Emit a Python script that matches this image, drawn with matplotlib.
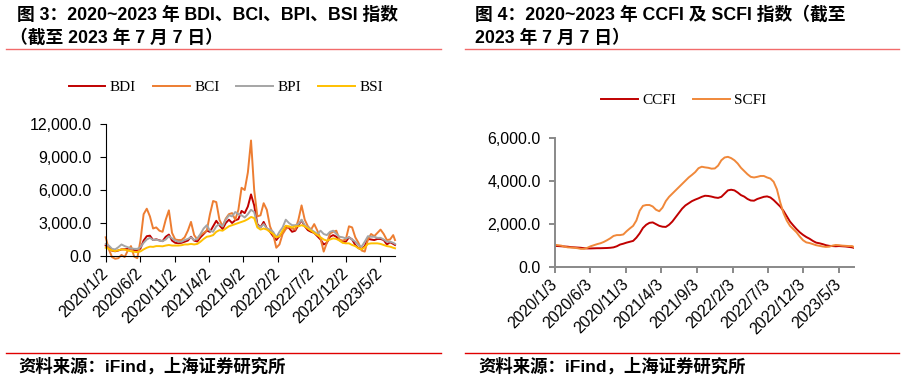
import matplotlib
matplotlib.use('Agg')
import matplotlib.pyplot as plt
import pandas as pd
from matplotlib.lines import Line2D
from matplotlib.ticker import FuncFormatter, FixedLocator

plt.rcParams['font.family'] = ['Liberation Sans', 'Noto Sans CJK SC']

# ---------------- data ----------------
left_dates = list(pd.date_range('2020-01-02', periods=92, freq='14D')) + [pd.Timestamp('2023-07-07')]
right_dates = list(pd.date_range('2020-01-03', periods=92, freq='14D')) + [pd.Timestamp('2023-07-07')]

bdi = [950, 760, 480, 430, 500, 600, 610, 640, 680, 530,
       470, 680, 1400, 1800, 1850, 1450, 1520, 1420, 1350, 1750,
       1950, 1400, 1200, 1160, 1200, 1300, 1400, 1750, 1400, 1320,
       1700, 2000, 2300, 2200, 2700, 3200, 2800, 2450, 3000, 3300,
       3000, 3250, 3350, 4100, 3900, 4500, 5600, 4600, 2900, 2600,
       3100, 2500, 2200, 1800, 1450, 1800, 2100, 2700, 2550, 2200,
       2300, 2800, 3250, 2700, 2350, 2200, 2100, 1800, 1500, 1050,
       1200, 1750, 1900, 1750, 1450, 1250, 1300, 1700, 1500, 1000,
       720, 600, 900, 1550, 1500, 1450, 1550, 1550, 1450, 1050,
       1250, 1100, 1000]

bci = [1700, 600, -100, -250, -200, 100, -100, 500, 900, -50,
       -200, 1400, 3800, 4300, 3600, 2500, 2600, 2300, 2200, 3300,
       4150, 2100, 1500, 1450, 1450, 1700, 2300, 3100, 1900, 1500,
       1900, 2100, 2300, 3800, 5000, 4900, 3300, 2700, 3400, 3800,
       3900, 3300, 4200, 6200, 6000, 7600, 10500, 6000, 3600, 3700,
       4800, 4200, 2700, 2000, 750, 1050, 2000, 2450, 2650, 2500,
       2400, 3300, 4600, 3300, 2700, 2400, 2900, 2300, 1600, 400,
       1200, 2050, 2200, 2300, 1500, 1400, 1500, 2700, 2600, 1700,
       1200, 500, 400, 1500, 2000, 1800, 2100, 2400, 2000, 1450,
       1500, 1900, 1450]

bpi = [1100, 950, 650, 600, 800, 1050, 900, 800, 700, 650,
       650, 800, 1200, 1500, 1650, 1450, 1500, 1400, 1350, 1500,
       1800, 1600, 1400, 1300, 1300, 1450, 1550, 1700, 1450, 1600,
       2000, 2500, 2800, 2300, 2200, 2700, 2900, 2700, 3300, 3700,
       3600, 4000, 3800, 3700, 3500, 3800, 4200, 4000, 2800, 2600,
       2900, 2500, 2400, 2200, 1700, 2200, 2600, 3300, 3000, 2800,
       2800, 2900, 3300, 2800, 2600, 2400, 2200, 2000, 2300, 2000,
       1900, 2200, 2300, 2000, 1750, 1700, 1600, 1700, 1500, 1300,
       1000, 850, 1300, 1800, 1750, 1750, 1650, 1650, 1500, 1300,
       1300, 1200, 1100]

bsi = [750, 650, 500, 450, 520, 600, 580, 500, 430, 380,
       350, 420, 600, 750, 850, 830, 900, 900, 880, 950,
       1000, 950, 950, 950, 980, 1050, 1050, 1100, 1050, 1100,
       1300, 1550, 1750, 1800, 1900, 2200, 2350, 2300, 2500, 2700,
       2800, 2900, 3000, 3100, 3200, 3350, 3550, 3450, 2600, 2400,
       2500, 2400, 2200, 2000, 1700, 1800, 2300, 2750, 2700, 2600,
       2700, 2700, 2800, 2700, 2500, 2300, 2100, 1900, 1700, 1500,
       1400, 1500, 1600, 1550, 1400, 1200, 1150, 1150, 1000, 900,
       700, 600, 800, 1100, 1150, 1150, 1150, 1100, 1000, 900,
       850, 750, 700]

ccfi = [970, 960, 950, 940, 930, 910, 900, 890, 880, 860,
        850, 850, 855, 860, 860, 865, 870, 880, 900, 950,
        1030, 1070, 1120, 1160, 1200, 1350, 1550, 1800, 1950, 2040,
        2060, 1980, 1900, 1860, 1850, 1950, 2100, 2300, 2500, 2700,
        2850, 2950, 3050, 3120, 3180, 3250, 3300, 3290, 3260, 3220,
        3200, 3250, 3400, 3550, 3580, 3550, 3450, 3330, 3260, 3150,
        3080, 3070, 3150, 3200, 3250, 3270, 3220, 3100, 2950, 2800,
        2600, 2350, 2100, 1920, 1750, 1600, 1480, 1380, 1300, 1200,
        1120, 1090, 1050, 1000, 970, 960, 950, 960, 950, 940,
        920, 900, 880]

scfi = [1020, 1000, 980, 930, 900, 890, 880, 860, 830, 830,
        880, 950, 1000, 1050, 1090, 1150, 1230, 1320, 1430, 1470,
        1470, 1500, 1650, 1780, 1900, 2150, 2600, 2830, 2870, 2870,
        2800, 2650, 2580, 2750, 3050, 3250, 3400, 3550, 3700, 3850,
        4000, 4150, 4270, 4400, 4580, 4650, 4620, 4600, 4560, 4570,
        4700, 4950, 5080, 5110, 5050, 4950, 4800, 4600, 4450, 4300,
        4180, 4150, 4180, 4220, 4220, 4150, 4100, 3950, 3600, 3000,
        2500, 2150, 1900, 1750, 1600, 1400, 1230, 1130, 1100, 1050,
        1000, 970, 940, 920, 930, 980, 1010, 1000, 980, 970,
        960, 960, 920]

left_ticks = pd.date_range('2020-01-02', periods=9, freq=pd.DateOffset(months=5))
right_ticks = pd.date_range('2020-01-03', periods=9, freq=pd.DateOffset(months=5))
left_yticks = [0, 3000, 6000, 9000, 12000]
right_yticks = [0, 2000, 4000, 6000]

title_left_1 = '图 3：2020~2023 年 BDI、BCI、BPI、BSI 指数'
title_left_2 = '（截至 2023 年 7 月 7 日）'
title_right_1 = '图 4：2020~2023 年 CCFI 及 SCFI 指数（截至'
title_right_2 = '2023 年 7 月 7 日）'
source = '资料来源：iFind，上海证券研究所'

# ---------------- figure ----------------
W, H = 904, 380
fig = plt.figure(figsize=(W / 100, H / 100), dpi=100)


def fx(px):
    return px / W


def fy(py):
    return 1 - py / H


def datefmt(d):
    return f'{d.year}/{d.month}/{d.day}'


tick_font = dict(family=['Liberation Sans', 'Noto Sans CJK SC'], size=11.5)
legend_font = dict(family=['Liberation Serif'], size=11)

# left axes
axL = fig.add_axes([fx(105.7), fy(256), fx(395 - 105.7), (256 - 124) / H])
axL.plot(left_dates, bdi, color='#C00000', lw=1.4, label='BDI', clip_on=False)
axL.plot(left_dates, bci, color='#ED7D31', lw=1.4, label='BCI', clip_on=False)
axL.plot(left_dates, bpi, color='#A5A5A5', lw=1.4, label='BPI', clip_on=False)
axL.plot(left_dates, bsi, color='#FFC000', lw=1.4, label='BSI', clip_on=False)
axL.set_xlim(pd.Timestamp('2020-01-02'), pd.Timestamp('2023-07-07'))
axL.set_ylim(0, 12000)

# right axes
axR = fig.add_axes([fx(554.7), fy(266.7), fx(853.7 - 554.7), (266.7 - 137.7) / H])
axR.plot(right_dates, ccfi, color='#C00000', lw=1.4, label='CCFI')
axR.plot(right_dates, scfi, color='#F0883A', lw=1.4, label='SCFI')
axR.set_xlim(pd.Timestamp('2020-01-03'), pd.Timestamp('2023-07-07'))
axR.set_ylim(0, 6000)

for ax, ticks, yt, spc, slw in ((axL, left_ticks, left_yticks, '#000000', 0.8),
                                (axR, right_ticks, right_yticks, '#898989', 1.4)):
    for s in ('top', 'right'):
        ax.spines[s].set_visible(False)
    for s in ('left', 'bottom'):
        ax.spines[s].set_color(spc)
        ax.spines[s].set_linewidth(slw)
    ax.xaxis.set_major_locator(FixedLocator(matplotlib.dates.date2num(ticks)))
    ax.set_xticklabels([datefmt(d) for d in ticks], rotation=45, ha='right',
                       va='center', rotation_mode='anchor', fontdict=tick_font)
    ax.set_yticks(yt)
    ax.yaxis.set_major_formatter(FuncFormatter(lambda v, p: f'{v:,.1f}'))
    for lab in ax.get_yticklabels():
        lab.set_fontfamily(['Liberation Sans'])
        lab.set_fontsize(11.5)
    ax.tick_params(axis='both', direction='out', length=4, width=slw, color=spc,
                   labelcolor='#000000')
    ax.tick_params(axis='x', pad=7)
    ax.tick_params(axis='y', pad=6)
    ax.patch.set_alpha(0)

# legends
fig.legend(handles=axL.get_lines(), loc='center', bbox_to_anchor=(fx(226), fy(87)),
           ncol=4, frameon=False, prop=legend_font, handlelength=2.4,
           handletextpad=0.3, columnspacing=1.1, borderaxespad=0)
fig.legend(handles=axR.get_lines(), loc='center', bbox_to_anchor=(fx(684), fy(100)),
           ncol=2, frameon=False, prop=legend_font, handlelength=2.4,
           handletextpad=0.3, columnspacing=1.1, borderaxespad=0)

# titles
title_kw = dict(fontsize=12.8, fontweight='bold', va='center', ha='left',
                family=['Liberation Sans', 'Noto Sans CJK SC'])
fig.text(fx(17), fy(15), title_left_1, **title_kw)
fig.text(fx(10), fy(38), title_left_2, **title_kw)
fig.text(fx(475), fy(15), title_right_1, **title_kw)
fig.text(fx(475), fy(38), title_right_2, **title_kw)

# separator lines
for x0, x1 in ((6, 441), (465, 899)):
    fig.add_artist(Line2D([fx(x0), fx(x1)], [fy(49), fy(49)], color='#F26B6B', lw=1.0))
    fig.add_artist(Line2D([fx(x0), fx(x1)], [fy(353), fy(353)], color='#E00000', lw=1.0))

src_kw = dict(fontsize=12.5, fontweight='bold', va='center', ha='left',
              family=['Liberation Sans', 'Noto Sans CJK SC'])
fig.text(fx(18), fy(366), source, **src_kw)
fig.text(fx(478), fy(366), source, **src_kw)

fig.savefig('out.png', dpi=100)
